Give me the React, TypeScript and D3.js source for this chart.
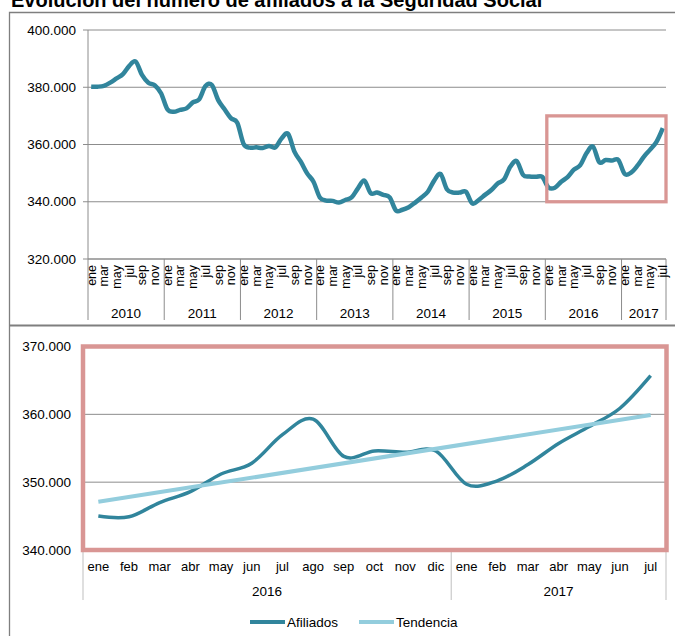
import React, { useEffect, useRef } from 'react';
import * as d3 from 'd3';

// Afiliados a la Seguridad Social, ene 2010 - jul 2017 (mensual)
const meses = ['ene', 'feb', 'mar', 'abr', 'may', 'jun', 'jul', 'ago', 'sep', 'oct', 'nov', 'dic'];
const anios = [2010, 2011, 2012, 2013, 2014, 2015, 2016, 2017];

const afiliados = [
  380200, 380200, 380500, 381600, 383100, 384600, 387500, 389000, 384300, 381600, 380700, 377900,
  372300, 371400, 372100, 372600, 374700, 375800, 380400, 380800, 375500, 372300, 369200, 367600,
  360200, 358900, 359000, 358800, 359500, 359000, 362200, 363700, 357500, 354000, 349900, 347000,
  341500, 340400, 340300, 339700, 340600, 341500, 344700, 347400, 343000, 343200, 342400, 341500,
  336900, 337200, 338100, 339700, 341500, 343500, 347400, 349700, 344400, 343200, 343200, 343500,
  339400, 340600, 342400, 344100, 346400, 347800, 352300, 354200, 349400, 348800, 348700, 348700,
  345000, 344900, 347000, 348600, 351200, 352800, 357000, 359300, 353800, 354600, 354400, 354600,
  349700, 350200, 352600, 355700, 358200, 360900, 365700,
];

// periodo ampliado: desde ene 2016
const inicioZoom = 72;
// linea de tendencia (extremos)
const tendencia = [347100, 359900];

const ticksTop = [320000, 340000, 360000, 380000, 400000];
const ticksBottom = [340000, 350000, 360000, 370000];

const AZUL = '#31859c';
const CELESTE = '#93cddd';
const ROJO = '#d99694';
const GRIS = '#8c8c8c';
const FONT = '"Liberation Sans", Arial, sans-serif';

const fmt = d3.formatLocale({ decimal: ',', thousands: '.', grouping: [3], currency: ['', ''] }).format(',');

const App: React.FC = () => {
  const svgRef = useRef<SVGSVGElement>(null);

  useEffect(() => {
    if (!svgRef.current) return;
    const svg = d3.select(svgRef.current);
    svg.selectAll('*').remove();

    const categorias = anios
      .flatMap(a => meses.map(m => ({ mes: m, anio: a, key: `${m}-${a}` })))
      .slice(0, afiliados.length);

    // marcos de los dos paneles
    svg.append('path')
      .attr('d', 'M9.5,700 V12.5 H700')
      .attr('fill', 'none').attr('stroke', '#7f7f7f').attr('stroke-width', 1.3);
    svg.append('line')
      .attr('x1', 9.5).attr('x2', 700).attr('y1', 325.5).attr('y2', 325.5)
      .attr('stroke', '#7f7f7f').attr('stroke-width', 2);

    svg.append('text')
      .attr('x', 11).attr('y', 7)
      .attr('font-size', 20).attr('font-weight', 'bold')
      .text('Evolución del número de afiliados a la Seguridad Social');

    // ---------- grafico superior ----------
    const xTop = d3.scaleBand<string>().domain(categorias.map(c => c.key)).range([88, 666]);
    const yTop = d3.scaleLinear().domain([320000, 400000]).range([259, 30]);
    const top = svg.append('g');

    top.selectAll('line.grid')
      .data(ticksTop.slice(1))
      .join('line')
      .attr('x1', 88).attr('x2', 666)
      .attr('y1', d => yTop(d)).attr('y2', d => yTop(d))
      .attr('stroke', GRIS).attr('stroke-width', 1);

    top.selectAll('line.tick')
      .data(ticksTop)
      .join('line')
      .attr('x1', 83).attr('x2', 88)
      .attr('y1', d => yTop(d)).attr('y2', d => yTop(d))
      .attr('stroke', GRIS);

    top.selectAll('text.ylab')
      .data(ticksTop)
      .join('text')
      .attr('x', 76).attr('y', d => yTop(d))
      .attr('dy', '0.35em').attr('text-anchor', 'end')
      .attr('font-size', 13.5)
      .text(d => fmt(d));

    top.append('line')
      .attr('x1', 88).attr('x2', 88).attr('y1', 30).attr('y2', 259)
      .attr('stroke', GRIS);
    top.append('line')
      .attr('x1', 88).attr('x2', 666).attr('y1', 259).attr('y2', 259)
      .attr('stroke', GRIS).attr('stroke-width', 1.5);

    // separadores de anio
    const limites = anios.map(a => xTop(`ene-${a}`) as number).concat([666]);
    top.selectAll('line.sep')
      .data(limites)
      .join('line')
      .attr('x1', d => d).attr('x2', d => d)
      .attr('y1', 259).attr('y2', 320)
      .attr('stroke', GRIS);

    top.selectAll('text.year')
      .data(anios)
      .join('text')
      .attr('x', (d, i) => (limites[i] + limites[i + 1]) / 2)
      .attr('y', 317.5)
      .attr('text-anchor', 'middle')
      .attr('font-size', 13.5)
      .text(d => d);

    const bwTop = xTop.bandwidth();
    top.selectAll('text.mes')
      .data(categorias.filter((c, i) => i % 2 === 0))
      .join('text')
      .attr('transform', d => `translate(${(xTop(d.key) as number) + bwTop / 2},265) rotate(-90)`)
      .attr('text-anchor', 'end')
      .attr('dy', '0.35em')
      .attr('font-size', 12.5)
      .text(d => d.mes);

    const lineTop = d3.line<number>()
      .x((d, i) => (xTop(categorias[i].key) as number) + bwTop / 2)
      .y(d => yTop(d))
      .curve(d3.curveCatmullRom.alpha(0));

    top.append('path')
      .datum(afiliados)
      .attr('d', lineTop)
      .attr('fill', 'none')
      .attr('stroke', AZUL)
      .attr('stroke-width', 4.5)
      .attr('stroke-linejoin', 'round');

    const x0 = xTop(categorias[inicioZoom].key) as number;
    top.append('rect')
      .attr('x', x0 + 1.5).attr('y', yTop(370000))
      .attr('width', 666 - x0 - 1.5).attr('height', yTop(340000) - yTop(370000))
      .attr('fill', 'none').attr('stroke', ROJO).attr('stroke-width', 3.3);

    // ---------- grafico inferior ----------
    const catZoom = categorias.slice(inicioZoom);
    const valZoom = afiliados.slice(inicioZoom);
    const xBot = d3.scaleBand<string>().domain(catZoom.map(c => c.key)).range([83, 666]);
    const yBot = d3.scaleLinear().domain([340000, 370000]).range([550, 346.5]);
    const bwBot = xBot.bandwidth();
    const bot = svg.append('g');

    bot.selectAll('line.grid')
      .data(ticksBottom)
      .join('line')
      .attr('x1', 83).attr('x2', 666)
      .attr('y1', d => yBot(d)).attr('y2', d => yBot(d))
      .attr('stroke', GRIS);

    bot.selectAll('text.ylab')
      .data(ticksBottom)
      .join('text')
      .attr('x', 71).attr('y', d => yBot(d))
      .attr('dy', '0.35em').attr('text-anchor', 'end')
      .attr('font-size', 13.5)
      .text(d => fmt(d));

    const aniosZoom = Array.from(new Set(catZoom.map(c => c.anio)));
    const limZoom = aniosZoom.map(a => xBot(`ene-${a}`) as number).concat([666]);
    bot.selectAll('line.sep')
      .data(limZoom)
      .join('line')
      .attr('x1', d => d).attr('x2', d => d)
      .attr('y1', 550).attr('y2', 600)
      .attr('stroke', '#bfbfbf');

    bot.selectAll('text.mes')
      .data(catZoom)
      .join('text')
      .attr('x', d => (xBot(d.key) as number) + bwBot / 2)
      .attr('y', 571)
      .attr('text-anchor', 'middle')
      .attr('font-size', 13)
      .text(d => d.mes);

    bot.selectAll('text.year')
      .data(aniosZoom)
      .join('text')
      .attr('x', (d, i) => (limZoom[i] + limZoom[i + 1]) / 2)
      .attr('y', 596)
      .attr('text-anchor', 'middle')
      .attr('font-size', 13.5)
      .text(d => d);

    const cx = (i: number) => (xBot(catZoom[i].key) as number) + bwBot / 2;
    const lineBot = d3.line<number>()
      .x((d, i) => cx(i))
      .y(d => yBot(d))
      .curve(d3.curveCatmullRom.alpha(0));

    bot.append('path')
      .datum(valZoom)
      .attr('d', lineBot)
      .attr('fill', 'none').attr('stroke', AZUL).attr('stroke-width', 3.5);

    bot.append('line')
      .attr('x1', cx(0)).attr('x2', cx(catZoom.length - 1))
      .attr('y1', yBot(tendencia[0])).attr('y2', yBot(tendencia[1]))
      .attr('stroke', CELESTE).attr('stroke-width', 4);

    bot.append('rect')
      .attr('x', 83).attr('y', yBot(370000))
      .attr('width', 666.5 - 83).attr('height', yBot(340000) - yBot(370000))
      .attr('fill', 'none').attr('stroke', ROJO).attr('stroke-width', 4.5);

    // leyenda
    const leyenda = [
      { nombre: 'Afiliados', color: AZUL, x: 250 },
      { nombre: 'Tendencia', color: CELESTE, x: 359 },
    ];
    const lg = bot.selectAll('g.ley').data(leyenda).join('g')
      .attr('transform', d => `translate(${d.x},622)`);
    lg.append('line')
      .attr('x1', 0).attr('x2', 35)
      .attr('stroke', d => d.color).attr('stroke-width', 4);
    lg.append('text')
      .attr('x', 37).attr('dy', '0.35em')
      .attr('font-size', 13.5)
      .text(d => d.nombre);
  }, []);

  return (
    <svg
      ref={svgRef}
      width={675}
      height={636}
      style={{ position: 'absolute', left: 0, top: 0, background: '#fff', fontFamily: FONT }}
    />
  );
};

export default App;
